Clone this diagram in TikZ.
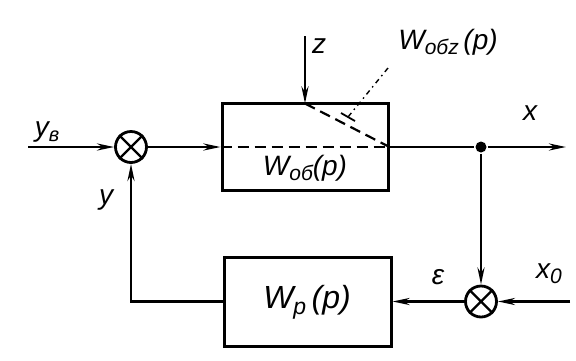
\documentclass[tikz,border=0pt]{standalone}
\usepackage{fontspec}
\setmainfont{Liberation Sans}
\usetikzlibrary{arrows.meta}
\newcommand\lsub[2]{\raisebox{-0.35ex}{\fontsize{#1}{#1}\selectfont #2}}
\begin{document}
\begin{tikzpicture}[x=1pt,y=-1pt, line width=2.6pt,
  tip/.style={-{Stealth[length=17pt,width=7pt]}},
  blk/.style={draw, line width=3pt, minimum width=166pt, minimum height=87pt, inner sep=0pt},
  sum/.style={draw, circle, line width=2.8pt, minimum size=31pt, inner sep=0pt},
  lbl/.style={font=\fontsize{28}{28}\selectfont\itshape, inner sep=0pt},
  inner/.style={line width=2.2pt, dash pattern=on 11pt off 6pt},
  leader/.style={line width=1.4pt, dash pattern=on 5pt off 4pt on 1.5pt off 4pt},
]
\useasboundingbox (0,0) rectangle (576,360);
% blocks and junctions
\node[blk] (b1) at (305,147) {};
\node[blk, minimum width=167pt, minimum height=89pt] (b2) at (307.5,301.5) {};
\node[sum] (s1) at (131,147) {};
\node[sum] (s2) at (481,301.5) {};
\node[circle, fill, inner sep=0pt, minimum size=11pt] (d) at (481,147) {};
\draw[line width=2.2pt] (s1.north east) -- (s1.south west) (s1.north west) -- (s1.south east);
\draw[line width=2.2pt] (s2.north east) -- (s2.south west) (s2.north west) -- (s2.south east);
% free ends
\coordinate (in1) at (28,147);
\coordinate (out) at (566,147);
\coordinate (zin) at (305,36);
\coordinate (zp) at (305,103.5);
\coordinate (x0in) at (570,301.5);
\coordinate (ld1) at (388,68);
\coordinate (ld2) at (348,117);
\coordinate (tk1) at (341,113);
\coordinate (tk2) at (355,121);
% connectors
\draw[tip] (in1) -- (s1);
\draw[tip] (s1) -- (b1);
\draw (b1.east) -- (d);
\draw[tip] (d) -- (out);
\draw[tip] (d) -- (s2);
\draw[tip] (x0in) -- (s2);
\draw[tip] (s2) -- (b2);
\draw[tip] (b2.west) -| (s1.south);
\draw[tip] (zin) -- (zp);
\draw[inner] (b1.west) -- (b1.east);
\draw[inner] (zp) -- (b1.east);
\draw[leader] (ld1) -- (ld2);
\draw[line width=1.8pt] (tk1) -- (tk2);
% labels
\node[lbl] (lyb) at (47,132) {y\lsub{20}{в}};
\node[lbl] (lz) at (319,46) {z};
\node[lbl] (lw) at (448,42) {W\lsub{21}{обz}\,(p)};
\node[lbl] (lx) at (530,113) {x};
\node[lbl] (lwob) at (305,168) {W\lsub{21}{об}(p)};
\node[lbl] (ly) at (106,200) {y};
\node[lbl] (le) at (438,277) {ε};
\node[lbl] (lx0) at (549,274) {x\lsub{21}{0}};
\node[lbl, font=\fontsize{32}{32}\selectfont\itshape] (lwp) at (307,302) {W\lsub{23}{p}\,(p)};
\end{tikzpicture}
\end{document}
